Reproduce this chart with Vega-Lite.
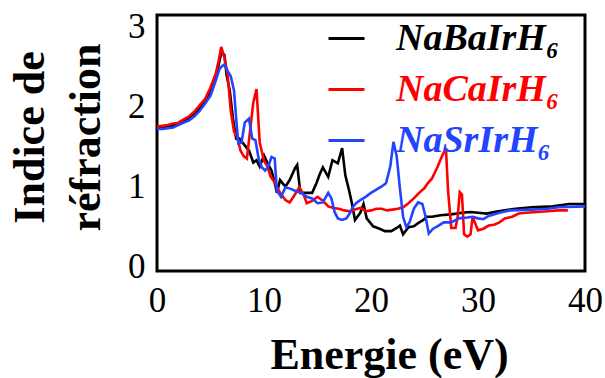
{
  "$schema": "https://vega.github.io/schema/vega-lite/v6.json",
  "autosize": {"type": "none"},
  "width": 428,
  "height": 256,
  "padding": {"left": 157, "top": 15, "right": 20, "bottom": 107},
  "background": "white",
  "config": {
    "view": {"stroke": "black", "strokeWidth": 3},
    "font": "Liberation Serif"
  },
  "data": {
    "values": [
      {"E": 0, "n": 1.74, "c": "NaBaIrH₆"}, {"E": 1, "n": 1.75, "c": "NaBaIrH₆"}, {"E": 2, "n": 1.78, "c": "NaBaIrH₆"},
      {"E": 3, "n": 1.85, "c": "NaBaIrH₆"}, {"E": 4, "n": 1.98, "c": "NaBaIrH₆"}, {"E": 4.5, "n": 2.07, "c": "NaBaIrH₆"},
      {"E": 5, "n": 2.19, "c": "NaBaIrH₆"}, {"E": 5.5, "n": 2.38, "c": "NaBaIrH₆"}, {"E": 5.8, "n": 2.55, "c": "NaBaIrH₆"},
      {"E": 6.0, "n": 2.67, "c": "NaBaIrH₆"}, {"E": 6.3, "n": 2.65, "c": "NaBaIrH₆"}, {"E": 6.5, "n": 2.4, "c": "NaBaIrH₆"},
      {"E": 6.8, "n": 2.2, "c": "NaBaIrH₆"}, {"E": 7.1, "n": 1.85, "c": "NaBaIrH₆"}, {"E": 7.4, "n": 1.6, "c": "NaBaIrH₆"},
      {"E": 7.7, "n": 1.6, "c": "NaBaIrH₆"}, {"E": 8.0, "n": 1.55, "c": "NaBaIrH₆"}, {"E": 8.3, "n": 1.5, "c": "NaBaIrH₆"},
      {"E": 8.6, "n": 1.45, "c": "NaBaIrH₆"}, {"E": 9.0, "n": 1.3, "c": "NaBaIrH₆"}, {"E": 9.3, "n": 1.33, "c": "NaBaIrH₆"},
      {"E": 9.6, "n": 1.25, "c": "NaBaIrH₆"}, {"E": 10.0, "n": 1.39, "c": "NaBaIrH₆"}, {"E": 10.3, "n": 1.3, "c": "NaBaIrH₆"},
      {"E": 10.7, "n": 1.2, "c": "NaBaIrH₆"}, {"E": 11.0, "n": 1.05, "c": "NaBaIrH₆"}, {"E": 11.2, "n": 0.92, "c": "NaBaIrH₆"},
      {"E": 11.5, "n": 1.08, "c": "NaBaIrH₆"}, {"E": 12.0, "n": 1.0, "c": "NaBaIrH₆"}, {"E": 12.4, "n": 1.08, "c": "NaBaIrH₆"},
      {"E": 12.9, "n": 1.23, "c": "NaBaIrH₆"}, {"E": 13.1, "n": 1.27, "c": "NaBaIrH₆"}, {"E": 13.4, "n": 0.92, "c": "NaBaIrH₆"},
      {"E": 14.0, "n": 0.92, "c": "NaBaIrH₆"}, {"E": 14.5, "n": 0.92, "c": "NaBaIrH₆"}, {"E": 14.9, "n": 1.04, "c": "NaBaIrH₆"},
      {"E": 15.2, "n": 1.15, "c": "NaBaIrH₆"}, {"E": 15.5, "n": 1.24, "c": "NaBaIrH₆"}, {"E": 16.0, "n": 1.12, "c": "NaBaIrH₆"},
      {"E": 16.4, "n": 1.33, "c": "NaBaIrH₆"}, {"E": 16.9, "n": 1.29, "c": "NaBaIrH₆"}, {"E": 17.3, "n": 1.48, "c": "NaBaIrH₆"},
      {"E": 17.6, "n": 1.14, "c": "NaBaIrH₆"}, {"E": 17.9, "n": 0.98, "c": "NaBaIrH₆"}, {"E": 18.2, "n": 0.8, "c": "NaBaIrH₆"},
      {"E": 18.5, "n": 0.58, "c": "NaBaIrH₆"}, {"E": 19.0, "n": 0.67, "c": "NaBaIrH₆"}, {"E": 19.3, "n": 0.78, "c": "NaBaIrH₆"},
      {"E": 19.6, "n": 0.6, "c": "NaBaIrH₆"}, {"E": 20.2, "n": 0.5, "c": "NaBaIrH₆"}, {"E": 20.8, "n": 0.47, "c": "NaBaIrH₆"},
      {"E": 21.3, "n": 0.44, "c": "NaBaIrH₆"}, {"E": 21.9, "n": 0.44, "c": "NaBaIrH₆"}, {"E": 22.4, "n": 0.48, "c": "NaBaIrH₆"},
      {"E": 22.7, "n": 0.51, "c": "NaBaIrH₆"}, {"E": 23.0, "n": 0.4, "c": "NaBaIrH₆"}, {"E": 23.5, "n": 0.49, "c": "NaBaIrH₆"},
      {"E": 24.0, "n": 0.5, "c": "NaBaIrH₆"}, {"E": 24.4, "n": 0.54, "c": "NaBaIrH₆"}, {"E": 24.9, "n": 0.58, "c": "NaBaIrH₆"},
      {"E": 25.2, "n": 0.62, "c": "NaBaIrH₆"}, {"E": 25.7, "n": 0.62, "c": "NaBaIrH₆"}, {"E": 26.5, "n": 0.64, "c": "NaBaIrH₆"},
      {"E": 27.5, "n": 0.65, "c": "NaBaIrH₆"}, {"E": 28.5, "n": 0.67, "c": "NaBaIrH₆"}, {"E": 29.3, "n": 0.68, "c": "NaBaIrH₆"},
      {"E": 30.0, "n": 0.67, "c": "NaBaIrH₆"}, {"E": 30.8, "n": 0.66, "c": "NaBaIrH₆"}, {"E": 31.5, "n": 0.68, "c": "NaBaIrH₆"},
      {"E": 32.5, "n": 0.7, "c": "NaBaIrH₆"}, {"E": 33.5, "n": 0.72, "c": "NaBaIrH₆"}, {"E": 35.0, "n": 0.74, "c": "NaBaIrH₆"},
      {"E": 37.0, "n": 0.75, "c": "NaBaIrH₆"}, {"E": 38.5, "n": 0.78, "c": "NaBaIrH₆"}, {"E": 40.0, "n": 0.78, "c": "NaBaIrH₆"},

      {"E": 0, "n": 1.75, "c": "NaCaIrH₆"}, {"E": 0.5, "n": 1.76, "c": "NaCaIrH₆"}, {"E": 1, "n": 1.77, "c": "NaCaIrH₆"},
      {"E": 1.5, "n": 1.79, "c": "NaCaIrH₆"}, {"E": 2, "n": 1.8, "c": "NaCaIrH₆"}, {"E": 2.5, "n": 1.84, "c": "NaCaIrH₆"},
      {"E": 3, "n": 1.88, "c": "NaCaIrH₆"}, {"E": 3.5, "n": 1.94, "c": "NaCaIrH₆"}, {"E": 4, "n": 2.02, "c": "NaCaIrH₆"},
      {"E": 4.5, "n": 2.1, "c": "NaCaIrH₆"}, {"E": 5, "n": 2.24, "c": "NaCaIrH₆"}, {"E": 5.5, "n": 2.42, "c": "NaCaIrH₆"},
      {"E": 5.8, "n": 2.6, "c": "NaCaIrH₆"}, {"E": 6.0, "n": 2.75, "c": "NaCaIrH₆"}, {"E": 6.3, "n": 2.62, "c": "NaCaIrH₆"},
      {"E": 6.6, "n": 2.4, "c": "NaCaIrH₆"}, {"E": 6.9, "n": 1.94, "c": "NaCaIrH₆"}, {"E": 7.2, "n": 1.69, "c": "NaCaIrH₆"},
      {"E": 7.5, "n": 1.62, "c": "NaCaIrH₆"}, {"E": 7.8, "n": 1.45, "c": "NaCaIrH₆"}, {"E": 8.1, "n": 1.38, "c": "NaCaIrH₆"},
      {"E": 8.4, "n": 1.35, "c": "NaCaIrH₆"}, {"E": 8.7, "n": 1.7, "c": "NaCaIrH₆"}, {"E": 9.0, "n": 2.05, "c": "NaCaIrH₆"},
      {"E": 9.3, "n": 2.22, "c": "NaCaIrH₆"}, {"E": 9.6, "n": 1.55, "c": "NaCaIrH₆"}, {"E": 10.0, "n": 1.32, "c": "NaCaIrH₆"},
      {"E": 10.3, "n": 1.26, "c": "NaCaIrH₆"}, {"E": 10.6, "n": 1.13, "c": "NaCaIrH₆"}, {"E": 11.0, "n": 1.05, "c": "NaCaIrH₆"},
      {"E": 11.5, "n": 0.92, "c": "NaCaIrH₆"}, {"E": 12.0, "n": 0.83, "c": "NaCaIrH₆"}, {"E": 12.4, "n": 0.8, "c": "NaCaIrH₆"},
      {"E": 12.8, "n": 0.88, "c": "NaCaIrH₆"}, {"E": 13.3, "n": 0.99, "c": "NaCaIrH₆"}, {"E": 13.7, "n": 0.9, "c": "NaCaIrH₆"},
      {"E": 14.0, "n": 0.79, "c": "NaCaIrH₆"}, {"E": 14.5, "n": 0.82, "c": "NaCaIrH₆"}, {"E": 15.0, "n": 0.87, "c": "NaCaIrH₆"},
      {"E": 15.5, "n": 0.82, "c": "NaCaIrH₆"}, {"E": 16.0, "n": 0.75, "c": "NaCaIrH₆"}, {"E": 16.5, "n": 0.73, "c": "NaCaIrH₆"},
      {"E": 17.0, "n": 0.72, "c": "NaCaIrH₆"}, {"E": 17.5, "n": 0.7, "c": "NaCaIrH₆"}, {"E": 18.0, "n": 0.69, "c": "NaCaIrH₆"},
      {"E": 18.5, "n": 0.71, "c": "NaCaIrH₆"}, {"E": 19.0, "n": 0.73, "c": "NaCaIrH₆"}, {"E": 19.5, "n": 0.69, "c": "NaCaIrH₆"},
      {"E": 20.0, "n": 0.7, "c": "NaCaIrH₆"}, {"E": 20.5, "n": 0.72, "c": "NaCaIrH₆"}, {"E": 21.0, "n": 0.72, "c": "NaCaIrH₆"},
      {"E": 21.5, "n": 0.7, "c": "NaCaIrH₆"}, {"E": 22.0, "n": 0.71, "c": "NaCaIrH₆"}, {"E": 22.5, "n": 0.72, "c": "NaCaIrH₆"},
      {"E": 23.0, "n": 0.74, "c": "NaCaIrH₆"}, {"E": 23.5, "n": 0.79, "c": "NaCaIrH₆"}, {"E": 24.0, "n": 0.85, "c": "NaCaIrH₆"},
      {"E": 24.5, "n": 0.92, "c": "NaCaIrH₆"}, {"E": 25.0, "n": 0.98, "c": "NaCaIrH₆"}, {"E": 25.3, "n": 1.04, "c": "NaCaIrH₆"},
      {"E": 25.7, "n": 1.1, "c": "NaCaIrH₆"}, {"E": 26.2, "n": 1.24, "c": "NaCaIrH₆"}, {"E": 26.6, "n": 1.37, "c": "NaCaIrH₆"},
      {"E": 27.0, "n": 1.48, "c": "NaCaIrH₆"}, {"E": 27.2, "n": 0.95, "c": "NaCaIrH₆"}, {"E": 27.5, "n": 0.48, "c": "NaCaIrH₆"},
      {"E": 27.9, "n": 0.48, "c": "NaCaIrH₆"}, {"E": 28.1, "n": 0.62, "c": "NaCaIrH₆"}, {"E": 28.3, "n": 0.93, "c": "NaCaIrH₆"},
      {"E": 28.5, "n": 0.9, "c": "NaCaIrH₆"}, {"E": 28.7, "n": 0.4, "c": "NaCaIrH₆"}, {"E": 29.0, "n": 0.37, "c": "NaCaIrH₆"},
      {"E": 29.3, "n": 0.4, "c": "NaCaIrH₆"}, {"E": 29.5, "n": 0.62, "c": "NaCaIrH₆"}, {"E": 29.7, "n": 0.55, "c": "NaCaIrH₆"},
      {"E": 30.0, "n": 0.45, "c": "NaCaIrH₆"}, {"E": 30.5, "n": 0.47, "c": "NaCaIrH₆"}, {"E": 31.0, "n": 0.51, "c": "NaCaIrH₆"},
      {"E": 31.5, "n": 0.52, "c": "NaCaIrH₆"}, {"E": 32.0, "n": 0.55, "c": "NaCaIrH₆"}, {"E": 32.5, "n": 0.6, "c": "NaCaIrH₆"},
      {"E": 33.2, "n": 0.62, "c": "NaCaIrH₆"}, {"E": 33.8, "n": 0.66, "c": "NaCaIrH₆"}, {"E": 34.5, "n": 0.67, "c": "NaCaIrH₆"},
      {"E": 35.5, "n": 0.68, "c": "NaCaIrH₆"}, {"E": 36.5, "n": 0.69, "c": "NaCaIrH₆"}, {"E": 37.5, "n": 0.7, "c": "NaCaIrH₆"},
      {"E": 38.4, "n": 0.7, "c": "NaCaIrH₆"},

      {"E": 0, "n": 1.72, "c": "NaSrIrH₆"}, {"E": 0.5, "n": 1.72, "c": "NaSrIrH₆"}, {"E": 1, "n": 1.73, "c": "NaSrIrH₆"},
      {"E": 1.5, "n": 1.74, "c": "NaSrIrH₆"}, {"E": 2, "n": 1.77, "c": "NaSrIrH₆"}, {"E": 2.5, "n": 1.8, "c": "NaSrIrH₆"},
      {"E": 3, "n": 1.83, "c": "NaSrIrH₆"}, {"E": 3.5, "n": 1.88, "c": "NaSrIrH₆"}, {"E": 4, "n": 1.95, "c": "NaSrIrH₆"},
      {"E": 4.5, "n": 2.04, "c": "NaSrIrH₆"}, {"E": 5, "n": 2.14, "c": "NaSrIrH₆"}, {"E": 5.5, "n": 2.33, "c": "NaSrIrH₆"},
      {"E": 5.8, "n": 2.46, "c": "NaSrIrH₆"}, {"E": 6.0, "n": 2.5, "c": "NaSrIrH₆"}, {"E": 6.3, "n": 2.53, "c": "NaSrIrH₆"},
      {"E": 6.6, "n": 2.45, "c": "NaSrIrH₆"}, {"E": 6.9, "n": 2.38, "c": "NaSrIrH₆"}, {"E": 7.2, "n": 2.2, "c": "NaSrIrH₆"},
      {"E": 7.4, "n": 1.85, "c": "NaSrIrH₆"}, {"E": 7.6, "n": 1.54, "c": "NaSrIrH₆"}, {"E": 7.9, "n": 1.55, "c": "NaSrIrH₆"},
      {"E": 8.2, "n": 1.8, "c": "NaSrIrH₆"}, {"E": 8.6, "n": 1.85, "c": "NaSrIrH₆"}, {"E": 8.9, "n": 1.6, "c": "NaSrIrH₆"},
      {"E": 9.2, "n": 1.58, "c": "NaSrIrH₆"}, {"E": 9.5, "n": 1.35, "c": "NaSrIrH₆"}, {"E": 9.8, "n": 1.24, "c": "NaSrIrH₆"},
      {"E": 10.1, "n": 1.2, "c": "NaSrIrH₆"}, {"E": 10.4, "n": 1.25, "c": "NaSrIrH₆"}, {"E": 10.7, "n": 1.37, "c": "NaSrIrH₆"},
      {"E": 11.0, "n": 1.35, "c": "NaSrIrH₆"}, {"E": 11.2, "n": 0.95, "c": "NaSrIrH₆"}, {"E": 11.6, "n": 0.87, "c": "NaSrIrH₆"},
      {"E": 12.0, "n": 0.99, "c": "NaSrIrH₆"}, {"E": 12.5, "n": 0.97, "c": "NaSrIrH₆"}, {"E": 13.0, "n": 0.94, "c": "NaSrIrH₆"},
      {"E": 13.5, "n": 0.92, "c": "NaSrIrH₆"}, {"E": 14.0, "n": 0.87, "c": "NaSrIrH₆"}, {"E": 14.5, "n": 0.85, "c": "NaSrIrH₆"},
      {"E": 15.0, "n": 0.79, "c": "NaSrIrH₆"}, {"E": 15.5, "n": 0.8, "c": "NaSrIrH₆"}, {"E": 16.0, "n": 0.92, "c": "NaSrIrH₆"},
      {"E": 16.3, "n": 0.85, "c": "NaSrIrH₆"}, {"E": 16.6, "n": 0.68, "c": "NaSrIrH₆"}, {"E": 16.9, "n": 0.6, "c": "NaSrIrH₆"},
      {"E": 17.3, "n": 0.58, "c": "NaSrIrH₆"}, {"E": 17.7, "n": 0.6, "c": "NaSrIrH₆"}, {"E": 18.0, "n": 0.66, "c": "NaSrIrH₆"},
      {"E": 18.3, "n": 0.74, "c": "NaSrIrH₆"}, {"E": 18.6, "n": 0.79, "c": "NaSrIrH₆"}, {"E": 19.0, "n": 0.83, "c": "NaSrIrH₆"},
      {"E": 19.5, "n": 0.87, "c": "NaSrIrH₆"}, {"E": 20.0, "n": 0.92, "c": "NaSrIrH₆"}, {"E": 20.5, "n": 0.96, "c": "NaSrIrH₆"},
      {"E": 21.0, "n": 1.0, "c": "NaSrIrH₆"}, {"E": 21.4, "n": 1.04, "c": "NaSrIrH₆"}, {"E": 21.8, "n": 1.25, "c": "NaSrIrH₆"},
      {"E": 22.1, "n": 1.56, "c": "NaSrIrH₆"}, {"E": 22.4, "n": 1.38, "c": "NaSrIrH₆"}, {"E": 22.7, "n": 0.98, "c": "NaSrIrH₆"},
      {"E": 23.0, "n": 0.62, "c": "NaSrIrH₆"}, {"E": 23.3, "n": 0.49, "c": "NaSrIrH₆"}, {"E": 23.6, "n": 0.55, "c": "NaSrIrH₆"},
      {"E": 24.0, "n": 0.72, "c": "NaSrIrH₆"}, {"E": 24.4, "n": 0.8, "c": "NaSrIrH₆"}, {"E": 24.8, "n": 0.78, "c": "NaSrIrH₆"},
      {"E": 25.1, "n": 0.62, "c": "NaSrIrH₆"}, {"E": 25.4, "n": 0.41, "c": "NaSrIrH₆"}, {"E": 25.8, "n": 0.47, "c": "NaSrIrH₆"},
      {"E": 26.2, "n": 0.5, "c": "NaSrIrH₆"}, {"E": 26.8, "n": 0.55, "c": "NaSrIrH₆"}, {"E": 27.5, "n": 0.55, "c": "NaSrIrH₆"},
      {"E": 28.2, "n": 0.6, "c": "NaSrIrH₆"}, {"E": 29.0, "n": 0.61, "c": "NaSrIrH₆"}, {"E": 29.5, "n": 0.62, "c": "NaSrIrH₆"},
      {"E": 30.0, "n": 0.6, "c": "NaSrIrH₆"}, {"E": 30.5, "n": 0.59, "c": "NaSrIrH₆"}, {"E": 31.0, "n": 0.63, "c": "NaSrIrH₆"},
      {"E": 32.0, "n": 0.67, "c": "NaSrIrH₆"}, {"E": 33.0, "n": 0.7, "c": "NaSrIrH₆"}, {"E": 35.0, "n": 0.71, "c": "NaSrIrH₆"},
      {"E": 36.5, "n": 0.72, "c": "NaSrIrH₆"}, {"E": 37.5, "n": 0.74, "c": "NaSrIrH₆"}, {"E": 40.0, "n": 0.75, "c": "NaSrIrH₆"}
    ]
  },
  "mark": {"type": "line", "strokeWidth": 2.6, "clip": true},
  "encoding": {
    "x": {
      "field": "E",
      "type": "quantitative",
      "scale": {"domain": [0, 40], "nice": false},
      "axis": {
        "values": [0, 10, 20, 30, 40],
        "grid": false,
        "domain": false,
        "ticks": false,
        "labelFont": "Liberation Serif",
        "labelFontSize": 35,
        "labelColor": "black",
        "labelPadding": 12,
        "labelFlush": false,
        "title": "Energie (eV)",
        "titleFont": "Liberation Serif",
        "titleFontSize": 44,
        "titleFontWeight": "bold",
        "titleColor": "black",
        "titleX": 232,
        "titleY": 97,
        "titleBaseline": "alphabetic"
      }
    },
    "y": {
      "field": "n",
      "type": "quantitative",
      "scale": {"domain": [-0.06, 3.15], "nice": false, "zero": false},
      "axis": {
        "values": [0, 1, 2, 3],
        "grid": false,
        "domain": false,
        "ticks": false,
        "labelFont": "Liberation Serif",
        "labelFontSize": 35,
        "labelColor": "black",
        "labelPadding": 12,
        "labelFlush": false,
        "title": ["Indice de", "réfraction"],
        "titleFont": "Liberation Serif",
        "titleFontSize": 44,
        "titleFontWeight": "bold",
        "titleColor": "black",
        "titleAngle": -90,
        "titleAlign": "center",
        "titleBaseline": "alphabetic",
        "titleLineHeight": 56,
        "titleX": -114,
        "titleY": 122
      }
    },
    "color": {
      "field": "c",
      "type": "nominal",
      "scale": {
        "domain": ["NaBaIrH₆", "NaCaIrH₆", "NaSrIrH₆"],
        "range": ["#000000", "#ff0000", "#2244ff"]
      },
      "legend": {
        "title": null,
        "orient": "none",
        "legendX": 170,
        "legendY": 4,
        "padding": 0,
        "symbolType": "stroke",
        "symbolSize": 1296,
        "symbolStrokeWidth": 3,
        "labelFont": "Liberation Serif",
        "labelFontSize": 38,
        "labelFontStyle": "italic",
        "labelFontWeight": "bold",
        "labelLimit": 0,
        "labelOffset": 30,
        "rowPadding": 12,
        "encode": {
          "labels": {"update": {"fill": {"signal": "scale('color', datum.value)"}}}
        }
      }
    }
  }
}
